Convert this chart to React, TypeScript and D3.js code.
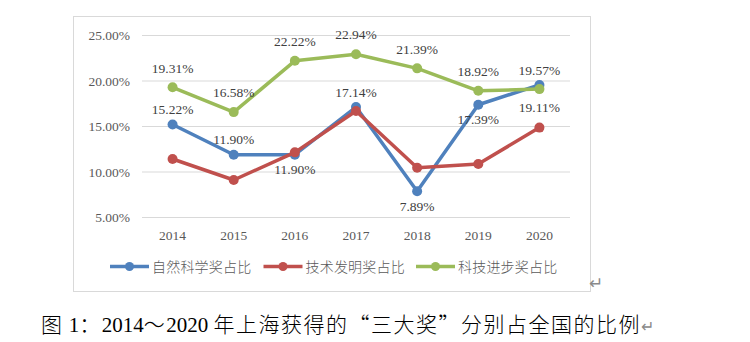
import React from "react";
import * as d3 from "d3";

const years = ["2014", "2015", "2016", "2017", "2018", "2019", "2020"];
const natureSci = [15.22, 11.9, 11.9, 17.14, 7.89, 17.39, 19.57];
const techInvent = [11.43, 9.12, 12.16, 16.7, 10.47, 10.88, 14.88];
const sciProgress = [19.31, 16.58, 22.22, 22.94, 21.39, 18.92, 19.11];
const yTicks = [5, 10, 15, 20, 25];
const natureLabelSide = ["up", "up", "down", "up", "down", "down", "up"];
const progressLabelSide = ["up", "up", "up", "up", "up", "up", "down"];
const seriesNames = ["自然科学奖占比", "技术发明奖占比", "科技进步奖占比"];
const caption = "图 1：2014～2020 年上海获得的“三大奖”分别占全国的比例";

const W = 750;
const H = 342;
const serif = "'Liberation Serif', 'Times New Roman', 'Noto Sans CJK SC', serif";
const cjk = "'Noto Sans CJK SC', sans-serif";

function captionRuns(s: string) {
  const runs: { text: string; latin: boolean }[] = [];
  for (const ch of s) {
    const latin = ch.charCodeAt(0) < 128;
    const last = runs[runs.length - 1];
    if (last && last.latin === latin) last.text += ch;
    else runs.push({ text: ch, latin });
  }
  return runs;
}

export default function App() {
  const x = d3.scaleBand<string>().domain(years).range([142, 570]);
  const cx = (y: string) => (x(y) ?? 0) + x.bandwidth() / 2;
  const y = d3.scaleLinear().domain([5, 25]).range([217.5, 35.5]);
  const line = d3
    .line<number>()
    .x((_, i) => cx(years[i]))
    .y((d) => y(d));

  const series = [
    { name: seriesNames[0], data: natureSci, color: "#4F81BD", sides: natureLabelSide, up: -15, down: 15 },
    { name: seriesNames[1], data: techInvent, color: "#C0504D", sides: null, up: 0, down: 0 },
    { name: seriesNames[2], data: sciProgress, color: "#9BBB59", sides: progressLabelSide, up: -19.5, down: 18 },
  ];
  const legendX = [110, 263.5, 416];

  return (
    <svg
      width={W}
      height={H}
      style={{ position: "absolute", left: 0, top: 0, background: "#fff" }}
    >
      <rect x={73.5} y={16.5} width={517} height={275} fill="#fff" stroke="#d9d9d9" strokeWidth={1} />
      {yTicks.map((t) => (
        <g key={t}>
          <line x1={142} x2={570} y1={y(t)} y2={y(t)} stroke="#d9d9d9" strokeWidth={1} />
          <text
            x={130}
            y={y(t)}
            dy="0.35em"
            textAnchor="end"
            fontFamily={serif}
            fontSize={13.5}
            fill="#595959"
          >
            {t.toFixed(2)}%
          </text>
        </g>
      ))}
      {years.map((yr) => (
        <text
          key={yr}
          x={cx(yr)}
          y={235}
          dy="0.35em"
          textAnchor="middle"
          fontFamily={serif}
          fontSize={13.5}
          fill="#595959"
        >
          {yr}
        </text>
      ))}
      {series.map((s) => (
        <g key={s.name}>
          <path d={line(s.data) ?? ""} fill="none" stroke={s.color} strokeWidth={3.5} strokeLinejoin="round" />
          {s.data.map((v, i) => (
            <circle key={i} cx={cx(years[i])} cy={y(v)} r={5} fill={s.color} />
          ))}
        </g>
      ))}
      {series.map((s) =>
        s.sides
          ? s.data.map((v, i) => (
              <text
                key={s.name + i}
                x={cx(years[i])}
                y={y(v) + (s.sides![i] === "up" ? s.up : s.down)}
                dy="0.35em"
                textAnchor="middle"
                fontFamily={serif}
                fontSize={13.5}
                fill="#404040"
              >
                {v.toFixed(2)}%
              </text>
            ))
          : null
      )}
      {series.map((s, i) => (
        <g key={"lg" + i} transform={`translate(${legendX[i]},266.5)`}>
          <line x1={0} x2={39} y1={0} y2={0} stroke={s.color} strokeWidth={3.5} />
          <circle cx={19.5} cy={0} r={4.5} fill={s.color} />
          <text
            x={42}
            y={0}
            dy="0.36em"
            fontFamily={cjk}
            fontWeight={300}
            fontSize={14}
            letterSpacing={0.2}
            fill="#595959"
          >
            {s.name}
          </text>
        </g>
      ))}
      <text x={589} y={283} dy="0.35em" fontFamily={serif} fontSize={17} fill="#8a8a8a">
        ↵
      </text>
      <text x={41} y={325} dy="0.35em" fontSize={21} fill="#000">
        {captionRuns(caption).map((r, i) => (
          <tspan
            key={i}
            fontFamily={r.latin ? serif : cjk}
            fontWeight={r.latin ? 400 : 300}
            letterSpacing={r.latin ? 0 : 1.5}
          >
            {r.text}
          </tspan>
        ))}
        <tspan fill="#8a8a8a" fontSize={16} fontFamily={serif}>↵</tspan>
      </text>
    </svg>
  );
}
